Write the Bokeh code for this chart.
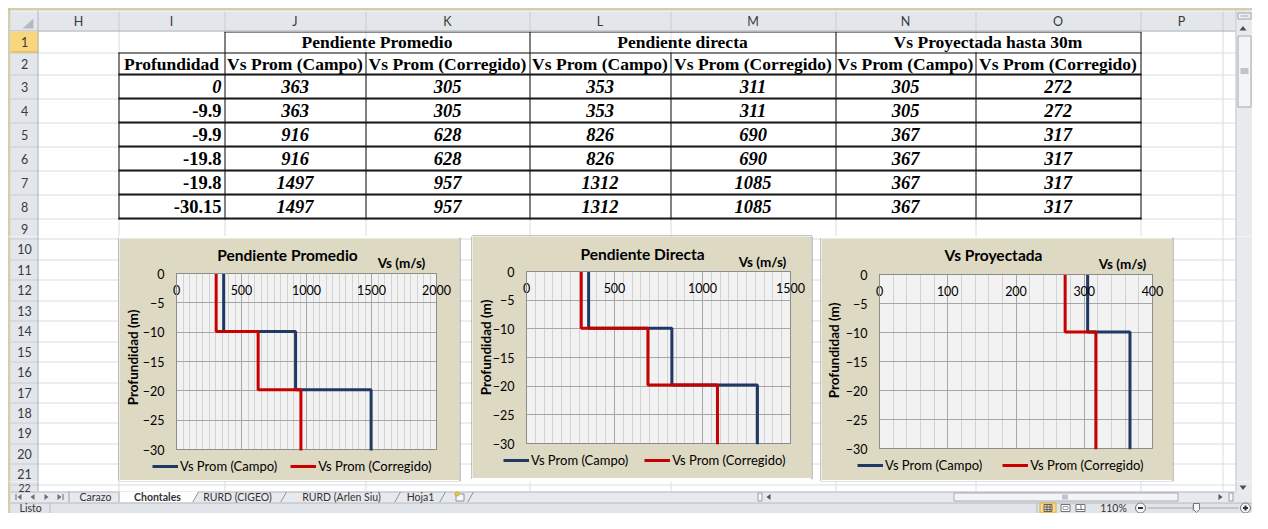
import math
from bokeh.plotting import figure
from bokeh.layouts import row, column
from bokeh.models import Range1d, FixedTicker, Legend, LegendItem, Label, LinearAxis, Grid
from bokeh.embed import file_html
from bokeh.resources import INLINE

# ---------------- data ----------------
profundidad = [0, -9.9, -9.9, -19.8, -19.8, -30.15]
profundidad_labels = ["0", "-9.9", "-9.9", "-19.8", "-19.8", "-30.15"]
pp_campo = [363, 363, 916, 916, 1497, 1497]
pp_corregido = [305, 305, 628, 628, 957, 957]
pd_campo = [353, 353, 826, 826, 1312, 1312]
pd_corregido = [311, 311, 690, 690, 1085, 1085]
vp_campo = [305, 305, 367, 367, 367, 367]
vp_corregido = [272, 272, 317, 317, 317, 317]

group_headers = ["Pendiente Promedio", "Pendiente directa", "Vs Proyectada hasta 30m"]
col_headers = ["Profundidad", "Vs Prom (Campo)", "Vs Prom (Corregido)", "Vs Prom (Campo)",
               "Vs Prom (Corregido)", "Vs Prom (Campo)", "Vs Prom (Corregido)"]
chart_titles = ["Pendiente Promedio", "Pendiente Directa", "Vs Proyectada"]
series_names = ["Vs Prom (Campo)", "Vs Prom (Corregido)"]
x_axis_title = "Vs (m/s)"
y_axis_title = "Profundidad (m)"
depth_ticks = [0, -5, -10, -15, -20, -25, -30]
vs_ticks_1 = [0, 500, 1000, 1500, 2000]
vs_ticks_2 = [0, 500, 1000, 1500]
vs_ticks_3 = [0, 100, 200, 300, 400]
column_letters = ["H", "I", "J", "K", "L", "M", "N", "O", "P", ""]
sheet_tabs = ["Carazo", "Chontales", "RURD (CIGEO)", "RURD (Arlen Siu)", "Hoja1"]
status_text = "Listo"
zoom_text = "110%"

# ---------------- style ----------------
SERIF = "Liberation Serif"
SANS = "Lato"
BEIGE = "#DDD9C3"
BLUE = "#203864"
RED = "#C80000"
HDR = "#E3E6EA"
HDR_SEP = "#C8CDD3"
HDR_EDGE = "#AEB4BB"
GRID = "#DADCE0"
INK = "#161616"
UI_TXT = "#3A3A3A"

# ---------------- sheet geometry (pixels) ----------------
COLS = [38, 118, 224, 365, 529, 670, 835, 975, 1140, 1222, 1235]
row_edges = [31, 52, 74, 98, 122, 146, 170, 194, 218] + \
            [round(218 + 20.45 * k) for k in range(1, 14)] + [491]
TAB0, TAB1 = 491, 502
ST0, ST1 = 502, 513
TABY = (TAB0 + TAB1) / 2
STY = (ST0 + ST1) / 2
VSB = 1235           # left edge of the vertical scrollbar
RIGHT = 1252

OPS = []


def R(x0, y0, x1, y1, fill=None, line=None, lw=1):
    OPS.append(("rect", dict(x0=x0, y0=y0, x1=x1, y1=y1, fill=fill, line=line, lw=lw)))


def S(x0, y0, x1, y1, color, w=1):
    OPS.append(("seg", dict(x0=x0, y0=y0, x1=x1, y1=y1, color=color, w=w)))


def HL(y, x0, x1, color, w=1):
    yy = y + 0.5 if w % 2 else y
    S(x0, yy, x1, yy, color, w)


def VL(x, y0, y1, color, w=1):
    xx = x + 0.5 if w % 2 else x
    S(xx, y0, xx, y1, color, w)


def P(xs, ys, fill, line=None):
    OPS.append(("poly", dict(xs=xs, ys=ys, fill=fill, line=line)))


def DOT(x, y, size, fill, line):
    OPS.append(("dot", dict(x=x, y=y, size=size, fill=fill, line=line)))


def T(x, y, text, size=12.5, font=SANS, style="normal", align="center", color=UI_TXT):
    OPS.append(("text", dict(x=x, y=y, text=text, size="%spx" % size, font=font,
                             style=style, align=align, color=color)))


# cell gridlines
for e in row_edges[1:-1]:
    HL(e, 38, VSB, GRID)
for x in COLS[1:-1]:
    VL(x, 31, TAB0, GRID)

# table borders
HL(31, 224, 1141, INK)
HL(52, 118, 1141, INK)
for e in row_edges[2:9]:
    HL(e, 118, 1141, INK, 2)
VL(118, 52, 219, INK)
VL(224, 31, 219, INK)
for x in [365, 670, 975]:
    VL(x, 52, 219, INK)
for x in [529, 835, 1140]:
    VL(x, 31, 219, INK)

# chart boxes (interiors are the chart figures)
R(118.5, 237.5, 459.5, 480.5, BEIGE, "#8A8A8A")
R(471.5, 235.5, 811.5, 478.5, BEIGE, "#8A8A8A")
R(820.5, 237.5, 1172.5, 480.5, BEIGE, "#8A8A8A")

# column header
R(10, 10, VSB, 11, "#F3F4F6")
R(10, 11, VSB, 31, HDR)
for x in COLS[1:-1]:
    VL(x, 11, 31, HDR_SEP)
HL(30, 10, VSB, HDR_EDGE)
P([22, 33, 33], [28, 28, 18], "#B5BAC0")

# row header
R(10, 31, 38, TAB0, HDR)
for e in row_edges[1:-1]:
    HL(e, 10, 38, HDR_SEP)
R(10, 31, 38, 52, "#F8D67C")
HL(51, 10, 38, "#E3AF40")
VL(37, 10, TAB0, HDR_EDGE)

# vertical scrollbar
R(VSB, 10, RIGHT, TAB0, "#E8EBEE")
VL(VSB, 10, TAB0, "#BFC4CA")
R(VSB + 2.5, 12.5, VSB + 15.5, 18.5, "#F2F3F5", "#9AA0A6")
HL(15, VSB + 5, VSB + 13, "#9AA0A6")
P([VSB + 4, VSB + 11, VSB + 7.5], [30, 30, 25.5], "#4A4E52")
R(VSB + 2.5, 35.5, VSB + 15.5, 106.5, "#F3F4F6", "#A3A8AF")
for yy in [68, 70, 72]:
    HL(yy, VSB + 5, VSB + 13, "#8E949B")
P([VSB + 4, VSB + 11, VSB + 7.5], [485, 485, 489.5], "#4A4E52")

# sheet tab bar
R(10, TAB0, RIGHT, TAB1, "#E6E9ED")
HL(TAB0, 10, VSB, "#B4B9BF")
a0, a1 = TABY - 3, TABY + 3
VL(15, a0, a1, "#6B6F74")
P([21, 17, 21], [a0, TABY, a1], "#6B6F74")
P([34, 30, 34], [a0, TABY, a1], "#6B6F74")
P([44, 48, 44], [a0, TABY, a1], "#6B6F74")
P([57, 61, 57], [a0, TABY, a1], "#6B6F74")
VL(62, a0, a1, "#6B6F74")
VL(68, TAB0, TAB1, "#9BA1A8")
P([118, 198, 192, 118], [TAB0, TAB0, TAB1, TAB1], "#FFFFFF")
VL(118, TAB0, TAB1, "#9BA1A8")
for xb in [192, 280, 394, 439, 467]:
    S(xb, TAB1, xb + 6, TAB0 + 0.5, "#8E949B")
R(455.5, TAB0 + 2.5, 463.5, TAB1 - 1.5, "#F7F7F7", "#8E949B")
DOT(456.5, TAB0 + 2.5, 4, "#F2C94C", "#D9A520")
# horizontal scrollbar
R(757.5, TAB0 + 1.5, 761.5, TAB1 - 1.5, "#F4F5F7", "#9AA0A6")
P([766, 770, 770], [TABY, a0, a1], "#505458")
R(953.5, TAB0 + 1.5, 1177.5, TAB1 - 1.5, "#F3F4F6", "#A5AAB1")
for xx in [1062, 1064, 1066]:
    VL(xx, TABY - 2.5, TABY + 2.5, "#8E949B")
P([1222, 1218, 1218], [TABY, a0, a1], "#505458")
R(1228.5, TAB0 + 1.5, 1232.5, TAB1 - 1.5, "#F4F5F7", "#9AA0A6")

# status bar
R(10, ST0, RIGHT, ST1, "#E1E5E9")
HL(ST0, 10, RIGHT, "#B4B9BF")
VL(49, ST0 + 1, ST1, "#B4B9BF")
VL(1036, ST0 + 1, ST1, "#B4B9BF")
R(1039.5, ST0 + 0.5, 1055.5, ST1 - 0.5, "#FAD98A", "#D9A93B")
R(1043.5, STY - 3.5, 1051.5, STY + 3.5, None, "#5E6266")
VL(1046, STY - 3, STY + 3, "#5E6266")
VL(1049, STY - 3, STY + 3, "#5E6266")
HL(STY - 1.5, 1044, 1051, "#5E6266")
HL(STY + 1, 1044, 1051, "#5E6266")
R(1060.5, STY - 3.5, 1069.5, STY + 3.5, "#FFFFFF", "#6F7479")
R(1062.5, STY - 1.5, 1067.5, STY + 1.5, None, "#9AA0A6")
R(1075.5, STY - 3.5, 1084.5, STY + 3.5, "#FFFFFF", "#6F7479")
VL(1080, STY - 3, STY + 1, "#6F7479")
HL(STY + 1, 1076, 1084, "#6F7479")
DOT(1140, STY, 10, "#F5F5F5", "#6F7479")
S(1137.5, STY, 1142.5, STY, "#333333", 2)
S(1147, STY, 1238, STY, "#A0A5AB", 1)
VL(1192, STY - 3, STY + 3, "#A0A5AB")
P([1193, 1199, 1199, 1196, 1193], [ST0 + 1, ST0 + 1, STY + 1.5, ST1 - 1, STY + 1.5], "#F7F7F7", "#70757A")
DOT(1245, STY, 10, "#F5F5F5", "#6F7479")
S(1242.5, STY, 1247.5, STY, "#333333", 2)
S(1245, STY - 2.5, 1245, STY + 2.5, "#333333", 2)

# window frame
R(8, 8, RIGHT, 9, "#A59B6C")
R(9, 9, RIGHT, 10, "#D3CDAA")
R(8, 8, 9, ST1, "#A59B6C")
R(9, 9, 10, ST1, "#D3CDAA")

# ---- texts of the sheet ----
for i, letter in enumerate(column_letters):
    if letter:
        T((COLS[i] + COLS[i + 1]) / 2, 21, letter)
for i in range(21):
    T(24, (row_edges[i] + row_edges[i + 1]) / 2, str(i + 1))
T(24, (row_edges[21] + row_edges[22]) / 2, "22", 10.5)

group_x = [(COLS[2] + COLS[4]) / 2, (COLS[4] + COLS[6]) / 2, (COLS[6] + COLS[8]) / 2]
for gx, g in zip(group_x, group_headers):
    T(gx, (row_edges[0] + row_edges[1]) / 2, g, 17.5, SERIF, "bold", color="#000000")
for j, h in enumerate(col_headers):
    T((COLS[j + 1] + COLS[j + 2]) / 2, (row_edges[1] + row_edges[2]) / 2, h, 17.5, SERIF, "bold",
      color="#000000")
table_cols = [pp_campo, pp_corregido, pd_campo, pd_corregido, vp_campo, vp_corregido]
for r in range(6):
    yc = (row_edges[r + 2] + row_edges[r + 3]) / 2
    T(COLS[2] - 3, yc, profundidad_labels[r], 18.5, SERIF, "bold italic" if r == 0 else "bold",
      align="right", color="#000000")
    for j, vals in enumerate(table_cols):
        T((COLS[j + 2] + COLS[j + 3]) / 2, yc, str(vals[r]), 18.5, SERIF, "bold italic", color="#000000")

tab_x = [95, 157, 237, 341, 420]
for tx, name in zip(tab_x, sheet_tabs):
    T(tx, TABY, name, 10.5, style="bold" if name == "Chontales" else "normal", color="#333333")
T(19, STY, status_text, 10.5, align="left", color="#333333")
T(1113, STY, zoom_text, 10.5, color="#333333")


def visible(kind, d, x0, x1, y0, y1):
    if kind == "text":
        return x0 <= d["x"] < x1 and y0 <= d["y"] < y1
    if kind == "rect":
        bx0, bx1, by0, by1 = d["x0"] - 1, d["x1"] + 1, d["y0"] - 1, d["y1"] + 1
    elif kind == "seg":
        bx0, bx1 = min(d["x0"], d["x1"]) - d["w"], max(d["x0"], d["x1"]) + d["w"]
        by0, by1 = min(d["y0"], d["y1"]) - d["w"], max(d["y0"], d["y1"]) + d["w"]
    elif kind == "poly":
        bx0, bx1, by0, by1 = min(d["xs"]) - 1, max(d["xs"]) + 1, min(d["ys"]) - 1, max(d["ys"]) + 1
    else:
        h = d["size"] / 2 + 1
        bx0, bx1, by0, by1 = d["x"] - h, d["x"] + h, d["y"] - h, d["y"] + h
    return bx1 > x0 and bx0 < x1 and by1 > y0 and by0 < y1


def flush(p, kind, items):
    if kind == "rect":
        p.quad(left=[d["x0"] for d in items], right=[d["x1"] for d in items],
               top=[d["y0"] for d in items], bottom=[d["y1"] for d in items],
               fill_color=[d["fill"] or "#FFFFFF" for d in items],
               fill_alpha=[1.0 if d["fill"] else 0.0 for d in items],
               line_color=[d["line"] or "#000000" for d in items],
               line_alpha=[1.0 if d["line"] else 0.0 for d in items],
               line_width=[d["lw"] for d in items])
    elif kind == "seg":
        p.segment(x0=[d["x0"] for d in items], y0=[d["y0"] for d in items],
                  x1=[d["x1"] for d in items], y1=[d["y1"] for d in items],
                  line_color=[d["color"] for d in items], line_width=[d["w"] for d in items])
    elif kind == "poly":
        p.patches(xs=[d["xs"] for d in items], ys=[d["ys"] for d in items],
                  fill_color=[d["fill"] for d in items],
                  line_color=[d["line"] or d["fill"] for d in items],
                  line_alpha=[1.0 if d["line"] else 0.0 for d in items])
    elif kind == "dot":
        p.scatter(x=[d["x"] for d in items], y=[d["y"] for d in items], marker="circle",
                  size=[d["size"] for d in items], fill_color=[d["fill"] for d in items],
                  line_color=[d["line"] for d in items])
    elif kind == "text":
        p.text(x=[d["x"] for d in items], y=[d["y"] for d in items], text=[d["text"] for d in items],
               text_font=[d["font"] for d in items], text_font_size=[d["size"] for d in items],
               text_font_style=[d["style"] for d in items], text_align=[d["align"] for d in items],
               text_baseline=["middle"] * len(items), text_color=[d["color"] for d in items])


def tile(x0, x1, y0, y1):
    p = figure(width=x1 - x0, height=y1 - y0, x_range=Range1d(x0, x1), y_range=Range1d(y1, y0),
               output_backend="svg", toolbar_location=None, min_border=0,
               x_axis_type=None, y_axis_type=None, outline_line_color=None,
               background_fill_color="#FFFFFF", border_fill_color="#FFFFFF")
    groups = []
    for kind, d in OPS:
        if not visible(kind, d, x0, x1, y0, y1):
            continue
        if groups and groups[-1][0] == kind:
            groups[-1][1].append(d)
        else:
            groups.append((kind, [d]))
    for kind, items in groups:
        flush(p, kind, items)
    return p


# ---------------- charts ----------------
charts = [
    dict(title=chart_titles[0], campo=pp_campo, corr=pp_corregido, xticks=vs_ticks_1, minor=50,
         interior=(119, 238, 459, 480), frame=(176, 273, 436, 449),
         title_at=(287, 254), unit_at=(401, 262), ytitle_at=(132, 357),
         legend_at=(152, 466), legend_gap=13),
    dict(title=chart_titles[1], campo=pd_campo, corr=pd_corregido, xticks=vs_ticks_2, minor=50,
         interior=(472, 236, 811, 478), frame=(526, 271, 790, 443),
         title_at=(642, 253), unit_at=(762, 261), ytitle_at=(485, 347),
         legend_at=(503, 460), legend_gap=16),
    dict(title=chart_titles[2], campo=vp_campo, corr=vp_corregido, xticks=vs_ticks_3, minor=20,
         interior=(821, 238, 1172, 480), frame=(879, 274, 1152, 448),
         title_at=(993, 254), unit_at=(1122, 263), ytitle_at=(833, 350),
         legend_at=(857, 465), legend_gap=20),
]

HAS_CROSS = "cross_bounds" in Grid.properties()


def make_chart(c):
    ix0, iy0, ix1, iy1 = c["interior"]
    fx0, fy0, fx1, fy1 = c["frame"]
    xmax = c["xticks"][-1]
    ymin = depth_ticks[-1]
    kx = xmax / (fx1 - fx0)
    ky = -ymin / (fy1 - fy0)
    p = figure(width=ix1 - ix0, height=iy1 - iy0, output_backend="svg", toolbar_location=None,
               x_range=Range1d(-(fx0 - ix0) * kx, xmax + (ix1 - fx1) * kx),
               y_range=Range1d(ymin - (iy1 - fy1) * ky, (fy0 - iy0) * ky),
               x_axis_type=None, y_axis_type=None, min_border=0,
               background_fill_color=BEIGE, border_fill_color=BEIGE, outline_line_color=None)
    # plot area
    p.quad(left=[0], right=[xmax], top=[0], bottom=[ymin], fill_color="#F2F2F2",
           line_color=None, level="image")

    major_step = c["xticks"][1] - c["xticks"][0]
    minor = [v for v in range(0, xmax, c["minor"]) if v % major_step != 0]
    xt = FixedTicker(ticks=c["xticks"], minor_ticks=minor)
    yt = FixedTicker(ticks=depth_ticks)

    if HAS_CROSS:
        gx = Grid(dimension=0, ticker=xt, bounds=(0, xmax), cross_bounds=(ymin, 0),
                  grid_line_color="#A6A6A6", minor_grid_line_color="#D2D2D2")
        gy = Grid(dimension=1, ticker=yt, bounds=(ymin, 0), cross_bounds=(0, xmax),
                  grid_line_color="#A6A6A6")
        p.add_layout(gx)
        p.add_layout(gy)
    else:
        p.segment(x0=minor, x1=minor, y0=[ymin] * len(minor), y1=[0] * len(minor),
                  line_color="#D2D2D2", level="underlay")
        p.segment(x0=c["xticks"], x1=c["xticks"], y0=[ymin] * len(c["xticks"]),
                  y1=[0] * len(c["xticks"]), line_color="#A6A6A6", level="underlay")
        p.segment(x0=[0] * len(depth_ticks), x1=[xmax] * len(depth_ticks), y0=depth_ticks,
                  y1=depth_ticks, line_color="#A6A6A6", level="underlay")
    p.quad(left=[0], right=[xmax], top=[0], bottom=[ymin], fill_alpha=0, line_color="#8C8C8C")

    common = dict(major_tick_out=0, major_tick_in=0, minor_tick_out=0, minor_tick_in=0,
                  axis_line_color="#8C8C8C", major_label_text_font=SANS,
                  major_label_text_font_size="12.5px", major_label_text_color="#000000",
                  major_label_standoff=11)
    xa = LinearAxis(ticker=xt, fixed_location=0, bounds=(0, xmax), **common)
    ya = LinearAxis(ticker=yt, fixed_location=0, bounds=(ymin, 0), **common)
    ya.major_label_standoff = 12
    p.add_layout(xa, "below")
    p.add_layout(ya, "left")

    r1 = p.line(c["campo"], profundidad, line_width=3, line_color=BLUE)
    r2 = p.line(c["corr"], profundidad, line_width=3, line_color=RED)

    lx, ly = c["legend_at"]
    leg = Legend(items=[LegendItem(label=series_names[0], renderers=[r1]),
                        LegendItem(label=series_names[1], renderers=[r2])],
                 orientation="horizontal", location=(lx - ix0, iy1 - (ly + 8)),
                 glyph_width=26, glyph_height=16, label_height=16, label_standoff=2,
                 spacing=c["legend_gap"], padding=0, margin=0, border_line_alpha=0,
                 background_fill_alpha=0, label_text_font=SANS, label_text_font_size="13px",
                 label_text_color="#000000")
    p.add_layout(leg)

    def lab(at, text, size, angle=0.0):
        p.add_layout(Label(x=at[0] - ix0, y=iy1 - at[1], x_units="screen", y_units="screen",
                           text=text, angle=angle, text_font=SANS, text_font_style="bold",
                           text_font_size=size, text_align="center", text_baseline="middle",
                           text_color="#000000"))

    lab(c["title_at"], c["title"], "15.5px")
    lab(c["unit_at"], x_axis_title, "13.5px")
    lab(c["ytitle_at"], y_axis_title, "13.5px", math.pi / 2)
    return p


ch1, ch2, ch3 = [make_chart(c) for c in charts]

top = tile(0, RIGHT, 0, 236)
left = tile(0, 119, 236, 481)
c1 = column(tile(119, 459, 236, 238), ch1, tile(119, 459, 480, 481), spacing=0)
g1 = tile(459, 472, 236, 481)
c2 = column(ch2, tile(472, 811, 478, 481), spacing=0)
g2 = tile(811, 821, 236, 481)
c3 = column(tile(821, 1172, 236, 238), ch3, tile(821, 1172, 480, 481), spacing=0)
right = tile(1172, RIGHT, 236, 481)
bottom = tile(0, RIGHT, 481, ST1)

layout = column(top, row(left, c1, g1, c2, g2, c3, right, spacing=0), bottom, spacing=0)

with open("out.html", "w") as f:
    f.write(file_html(layout, INLINE))
